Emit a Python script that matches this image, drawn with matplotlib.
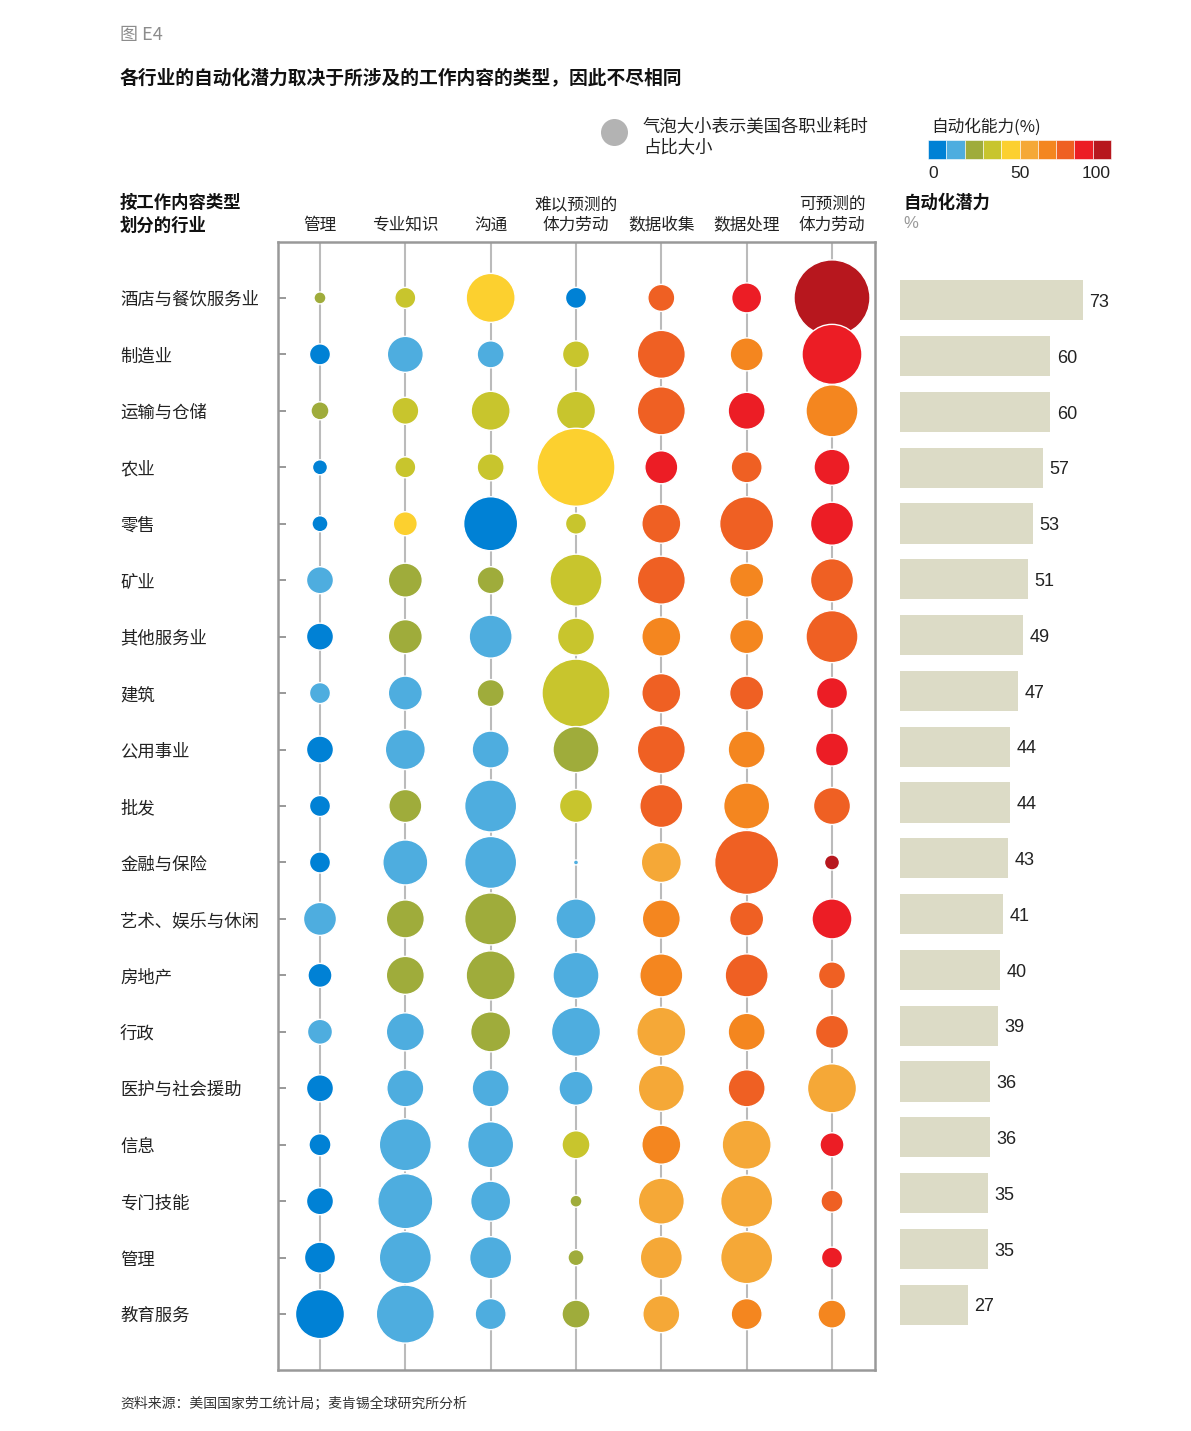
import numpy as np
import matplotlib
matplotlib.use('Agg')
from matplotlib import pyplot as plt
from matplotlib.patches import Rectangle

plt.rcParams['font.family'] = ['Noto Sans CJK SC', 'DejaVu Sans']

industries = ['酒店与餐饮服务业', '制造业', '运输与仓储', '农业', '零售', '矿业', '其他服务业',
              '建筑', '公用事业', '批发', '金融与保险', '艺术、娱乐与休闲', '房地产', '行政',
              '医护与社会援助', '信息', '专门技能', '管理', '教育服务']

activities = ['管理', '专业知识', '沟通', '难以预测的\n体力劳动', '数据收集', '数据处理', '可预测的\n体力劳动']

potential = [73, 60, 60, 57, 53, 51, 49, 47, 44, 44, 43, 41, 40, 39, 36, 36, 35, 35, 27]

# relative bubble size (share of time spent), one row per industry
bubble_size = [
    [12, 21, 49, 21, 27, 30, 76],
    [21, 36, 27, 27, 48, 33, 60],
    [18, 27, 39, 39, 48, 37, 52],
    [15, 21, 27, 78, 33, 31, 36],
    [16, 24, 54, 21, 39, 54, 43],
    [27, 34, 27, 52, 48, 34, 43],
    [27, 34, 43, 37, 39, 34, 52],
    [21, 34, 27, 68, 39, 34, 31],
    [27, 40, 37, 46, 48, 37, 33],
    [21, 33, 52, 33, 43, 46, 37],
    [21, 45, 52, 5, 40, 64, 15],
    [33, 38, 52, 40, 38, 34, 40],
    [24, 38, 49, 46, 43, 43, 27],
    [25, 38, 40, 49, 49, 37, 33],
    [27, 37, 37, 34, 46, 37, 49],
    [22, 52, 46, 28, 39, 49, 24],
    [27, 55, 40, 12, 46, 52, 22],
    [31, 52, 42, 16, 42, 52, 21],
    [49, 58, 31, 28, 37, 31, 28],
]

# automation capability bin (0..9 -> 0..100%)
capability_bin = [
    [2, 3, 4, 0, 7, 8, 9],
    [0, 1, 1, 3, 7, 6, 8],
    [2, 3, 3, 3, 7, 8, 6],
    [0, 3, 3, 4, 8, 7, 8],
    [0, 4, 0, 3, 7, 7, 8],
    [1, 2, 2, 3, 7, 6, 7],
    [0, 2, 1, 3, 6, 6, 7],
    [1, 1, 2, 3, 7, 7, 8],
    [0, 1, 1, 2, 7, 6, 8],
    [0, 2, 1, 3, 7, 6, 7],
    [0, 1, 1, 1, 5, 7, 9],
    [1, 2, 2, 1, 6, 7, 8],
    [0, 2, 2, 1, 6, 7, 7],
    [1, 1, 2, 1, 5, 6, 7],
    [0, 1, 1, 1, 5, 7, 5],
    [0, 1, 1, 3, 6, 5, 8],
    [0, 1, 1, 2, 5, 5, 7],
    [0, 1, 1, 2, 5, 5, 8],
    [0, 1, 1, 2, 5, 6, 6],
]

palette = ['#0081D5', '#4EADDF', '#9FAC3B', '#C8C52D', '#FCD02F',
           '#F5A837', '#F4861F', '#EF6023', '#EC1D25', '#B7171E']

W, H = 1191, 1431
DPI = 100
fig = plt.figure(figsize=(W / DPI, H / DPI), dpi=DPI)


def fx(x):
    return x / W


def fy(y):
    return 1 - y / H


# bubble panel
ax = fig.add_axes([fx(278), fy(1370), (875 - 278) / W, (1370 - 242) / H])
n_rows, n_cols = len(industries), len(activities)
xs, ys, ss, cs = [], [], [], []
for i in range(n_rows):
    for j in range(n_cols):
        xs.append(j)
        ys.append(i)
        ss.append((bubble_size[i][j] * 72 / DPI) ** 2)
        cs.append(palette[capability_bin[i][j]])
ax.scatter(xs, ys, s=ss, c=cs, edgecolors='white', linewidths=1.0, zorder=3)

ax.set_xlim(-0.492, n_cols - 1 + 0.504)
ax.set_ylim(n_rows - 1 + 0.99, -0.99)
ax.set_xticks(range(n_cols))
ax.set_xticklabels(activities, fontsize=12, color='#222222', linespacing=1.3)
ax.xaxis.tick_top()
ax.tick_params(axis='x', length=0, pad=6)
ax.set_yticks(range(n_rows))
ax.set_yticklabels(industries, fontsize=12.5, color='#222222', ha='left')
ax.tick_params(axis='y', direction='in', length=6, width=1.2, color='#888888', pad=158 * 72 / DPI)
ax.grid(axis='x', color='#BBBBBB', linewidth=1.5)
ax.set_axisbelow(True)
for sp in ax.spines.values():
    sp.set_color('#999999')
    sp.set_linewidth(1.8)

# automation potential bars
axb = fig.add_axes([fx(900), fy(1360), 250.7 / W, (1360 - 245) / H])
axb.barh(range(n_rows), potential, height=0.72, color='#DCDBC6')
for i, v in enumerate(potential):
    axb.text(v + 2.6, i + 0.04, str(v), va='center', ha='left', fontsize=13,
             family=['Liberation Sans', 'DejaVu Sans'], color='#222222')
axb.set_xlim(0, 100)
axb.set_ylim(ax.get_ylim())
axb.axis('off')

# header, legend and annotations in pixel space
ov = fig.add_axes([0, 0, 1, 1])
ov.set_xlim(0, W)
ov.set_ylim(H, 0)
ov.axis('off')

ov.text(120, 35, '图 E4', fontsize=13, color='#8C8C8C', va='center', ha='left')
ov.text(120, 79, '各行业的自动化潜力取决于所涉及的工作内容的类型，因此不尽相同',
        fontsize=13.5, fontweight='bold', color='#111111', va='center', ha='left')

ov.scatter([614], [132], s=(27 * 72 / DPI) ** 2, color='#B3B3B3', linewidths=0)
ov.text(643, 137, '气泡大小表示美国各职业耗时\n占比大小', fontsize=12.5, color='#222222',
        va='center', ha='left', linespacing=1.25)

ov.text(931, 127, '自动化能力(%)', fontsize=12, color='#222222', va='center', ha='left')
cb_x0, cb_x1 = 928, 1111
cb_w = (cb_x1 - cb_x0) / len(palette)
for k, col in enumerate(palette):
    ov.add_patch(Rectangle((cb_x0 + k * cb_w, 140), cb_w, 19, facecolor=col,
                           edgecolor='white', linewidth=0.4))
for lab, x in [('0', 933), ('50', 1020), ('100', 1096)]:
    ov.text(x, 174, lab, fontsize=12.5, family=['Liberation Sans', 'DejaVu Sans'],
            color='#222222', va='center', ha='center')

ov.text(120, 214, '按工作内容类型\n划分的行业', fontsize=12.5, fontweight='bold',
        color='#111111', va='center', ha='left', linespacing=1.35)
ov.text(903, 203, '自动化潜力', fontsize=12.5, fontweight='bold', color='#111111',
        va='center', ha='left')
ov.text(903, 224, '%', fontsize=12, color='#999999', va='center', ha='left',
        family=['Liberation Sans', 'DejaVu Sans'])

ov.text(120, 1404, '资料来源：美国国家劳工统计局；麦肯锡全球研究所分析', fontsize=10,
        color='#333333', va='center', ha='left')

fig.savefig('out.png', dpi=DPI)
